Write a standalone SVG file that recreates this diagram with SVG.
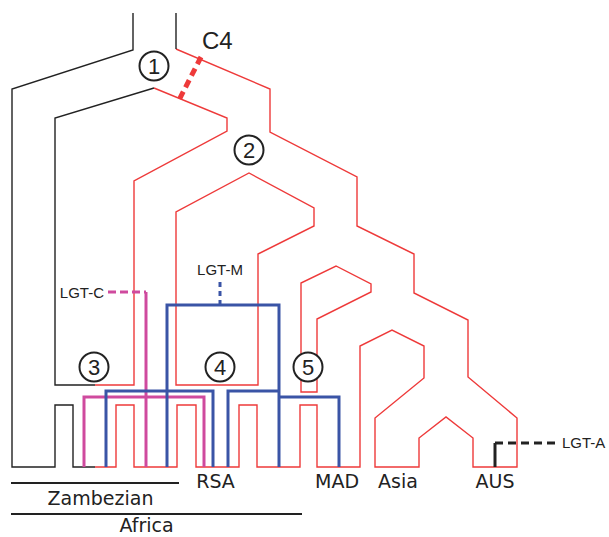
<svg xmlns="http://www.w3.org/2000/svg" width="609" height="537" viewBox="0 0 609 537">
<style>
.tb{fill:none;stroke:#222;stroke-width:1.4;stroke-linejoin:miter}
.tr{fill:none;stroke:#ee3a3a;stroke-width:1.4;stroke-linejoin:miter}
.bl{fill:none;stroke:#3a54a6;stroke-width:3}
.pk{fill:none;stroke:#cf4a9e;stroke-width:3}
.num circle{fill:#fff;stroke:#222;stroke-width:2}
.num text{font-family:"Liberation Sans",Arial,sans-serif;font-size:22px;fill:#222;text-anchor:middle}
.lgt{font-family:"Liberation Sans",Arial,sans-serif;font-size:15px;fill:#222}
.reg{font-family:"DejaVu Sans",Verdana,sans-serif;font-size:19px;fill:#222;text-anchor:middle}
.bar{stroke:#222;stroke-width:2}
</style>
<rect width="609" height="537" fill="#fff"/>
<g id="tree">
<path class="tb" d="M133,13 L133,50 L12,89 L12,467 L55,467 L55,405 L73,405 L73,467 L95,467"/>
<path class="tr" d="M95,467 L116,467 L116,405 L134,405 L134,467 L177,467 L177,405 L196,405 L196,467 L239,467 L239,405 L257,405 L257,467 L300,467 L300,405 L317,405 L317,467 L360,467 L360,346 L392,330 L424,346 L424,378 L375,418 L375,467 L419,467 L419,438 L446,417 L473,438 L473,467 L517,467 L517,418 L468,377 L468,320 L414,293 L414,254 L357,226 L357,177 L270,132 L270,89 L176,49"/>
<path class="tb" d="M176,49 L176,13"/>
<path class="tb" d="M95,385 L55,385 L55,118 L154,88"/>
<path class="tr" d="M154,88 L227,118 L227,131 L134,181 L134,385 L95,385"/>
<path class="tr" d="M176,385 L176,212 L249,173 L314,208 L314,226 L258,254 L258,385 Z"/>
<path class="tr" d="M301,392 L301,283 L336,266 L371,284 L371,292 L317,319 L317,392 Z"/>
</g>
<g id="c4">
<line x1="201" y1="57" x2="178" y2="102" stroke="#ee3a3a" stroke-width="5" stroke-dasharray="8 5"/>
<text x="202" y="49" font-family="Liberation Sans, Arial, sans-serif" font-size="24" fill="#222">C4</text>
</g>
<g id="connectors">
<g id="lgt-c">
<line class="pk" x1="108" y1="292" x2="146" y2="292" stroke-dasharray="8 4"/>
<path class="pk" d="M146,292 L146,467"/>
<path class="pk" d="M84,467 L84,397 L204,397 L204,467"/>
</g>
<g id="lgt-m">
<line class="bl" x1="220" y1="282" x2="220" y2="305" stroke-dasharray="5 4"/>
<path class="bl" d="M167,467 L167,305 L279,305 L279,467"/>
<path class="bl" d="M106,467 L106,391 L213,391 L213,467"/>
<path class="bl" d="M228,467 L228,391 L279,391"/>
<path class="bl" d="M279,397 L339,397 L339,467"/>
</g>
<g id="lgt-a">
<path d="M495,467 L495,443" stroke="#222" stroke-width="3" fill="none"/>
<line x1="495" y1="443" x2="557" y2="443" stroke="#222" stroke-width="3" stroke-dasharray="8 5"/>
</g>
</g>
<g id="labels">
<text class="lgt" x="104" y="298" text-anchor="end">LGT-C</text>
<text class="lgt" x="220" y="275" text-anchor="middle">LGT-M</text>
<text class="lgt" x="562" y="448">LGT-A</text>
</g>
<g id="n1" class="num"><circle cx="154" cy="66" r="14.5"/><text x="154" y="74">1</text></g>
<g id="n2" class="num"><circle cx="249" cy="150" r="14.5"/><text x="249" y="158">2</text></g>
<g id="n3" class="num"><circle cx="94" cy="367" r="14.5"/><text x="94" y="375">3</text></g>
<g id="n4" class="num"><circle cx="220" cy="367" r="14.5"/><text x="220" y="375">4</text></g>
<g id="n5" class="num"><circle cx="308" cy="367" r="14.5"/><text x="308" y="375">5</text></g>
<g id="regions">
<text class="reg" x="215.5" y="488">RSA</text>
<text class="reg" x="337" y="488">MAD</text>
<text class="reg" x="398" y="488">Asia</text>
<text class="reg" x="495" y="488">AUS</text>
<line class="bar" x1="11" y1="483" x2="179" y2="483"/>
<text class="reg" x="100.5" y="505">Zambezian</text>
<line class="bar" x1="11" y1="514" x2="302" y2="514"/>
<text class="reg" x="146.5" y="532">Africa</text>
</g>
</svg>
